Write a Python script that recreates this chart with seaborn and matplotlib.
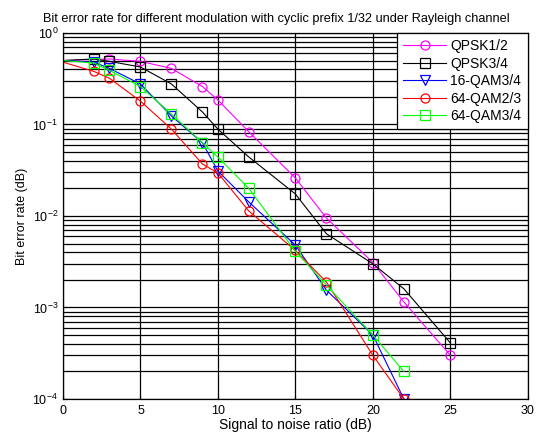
import matplotlib
matplotlib.use("Agg")
import matplotlib.pyplot as plt
import matplotlib.ticker as mticker
import seaborn as sns

# SNR points (dB); first point (0 dB) only carries the line, no marker
snr_qpsk12 = [0, 3, 5, 7, 9, 10, 12, 15, 17, 20, 22, 25]
ber_qpsk12 = [0.5, 0.52, 0.49, 0.41, 0.26, 0.185, 0.083, 0.026, 0.0095, 0.0031, 0.00115, 0.0003]

snr_qpsk34 = [0, 2, 3, 5, 7, 9, 10, 12, 15, 17, 20, 22, 25]
ber_qpsk34 = [0.5, 0.52, 0.49, 0.425, 0.277, 0.137, 0.089, 0.044, 0.0174, 0.0064, 0.003, 0.0016, 0.00041]

snr_16qam34 = [0, 2, 3, 5, 7, 9, 10, 12, 15, 17, 20, 22]
ber_16qam34 = [0.5, 0.48, 0.41, 0.277, 0.124, 0.063, 0.031, 0.0142, 0.0048, 0.00155, 0.0005, 0.0001]

snr_64qam23 = [0, 2, 3, 5, 7, 9, 10, 12, 15, 17, 20, 22]
ber_64qam23 = [0.48, 0.38, 0.32, 0.18, 0.089, 0.037, 0.0295, 0.0113, 0.0042, 0.0019, 0.0003, 0.0001]

snr_64qam34 = [0, 2, 3, 5, 7, 9, 10, 12, 15, 17, 20, 22]
ber_64qam34 = [0.5, 0.47, 0.39, 0.26, 0.13, 0.063, 0.044, 0.020, 0.0041, 0.00176, 0.0005, 0.0002]

plt.rcParams["font.family"] = ["Liberation Sans", "DejaVu Sans"]
plt.rcParams["mathtext.fontset"] = "custom"
plt.rcParams["mathtext.rm"] = "Liberation Sans"

fig = plt.figure(figsize=(5.55, 4.44), dpi=100)
ax = fig.add_axes([0.1135, 0.1014, 0.8375, 0.8243])

series = [
    ("QPSK1/2", snr_qpsk12, ber_qpsk12, "#ff00ff", "o"),
    ("QPSK3/4", snr_qpsk34, ber_qpsk34, "black", "s"),
    ("16-QAM3/4", snr_16qam34, ber_16qam34, "#0000ff", "v"),
    ("64-QAM2/3", snr_64qam23, ber_64qam23, "#ff0000", "o"),
    ("64-QAM3/4", snr_64qam34, ber_64qam34, "#00ff00", "s"),
]

for name, x, y, c, m in series:
    sns.lineplot(x=x, y=y, ax=ax, color=c, marker=m, markersize=6.5,
                 mfc="none", mec=c, mew=0.9, lw=0.8,
                 markevery=list(range(1, len(x))), label=name)

ax.set_yscale("log")
ax.set_xlim(0, 30)
ax.set_ylim(1e-4, 1)
ax.set_xticks(range(0, 31, 5))
ax.yaxis.set_minor_formatter(mticker.NullFormatter())
ax.grid(True, which="both", color="black", linewidth=0.9, linestyle="-")
ax.tick_params(which="both", direction="in", length=3, labelsize=9, colors="black")
ax.tick_params(axis="x", pad=4)
for s in ax.spines.values():
    s.set_color("black")
    s.set_linewidth(0.9)

ax.set_title("Bit error rate for different modulation with cyclic prefix 1/32 under Rayleigh channel",
             fontsize=9.2, x=0.458, pad=8)
ax.set_xlabel("Signal to noise ratio (dB)", fontsize=10, labelpad=1)
ax.set_ylabel("Bit error rate (dB)", fontsize=9, labelpad=3)

leg = ax.legend(loc="upper right", borderaxespad=0, fancybox=False, framealpha=1,
                edgecolor="black", fontsize=10, handlelength=3.1, handletextpad=0.3,
                labelspacing=0.25, borderpad=0.45)
leg.get_frame().set_linewidth(0.9)

fig.savefig("out.png", dpi=100)
